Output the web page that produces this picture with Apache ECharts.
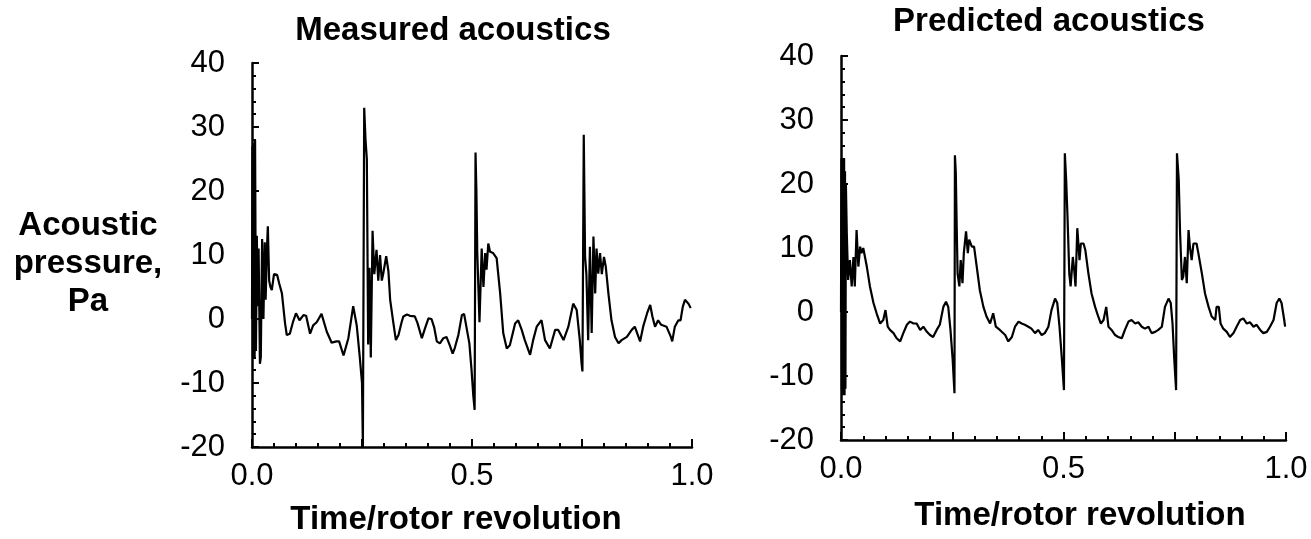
<!DOCTYPE html>
<html>
<head>
<meta charset="utf-8">
<script src="https://cdn.jsdelivr.net/npm/echarts@6/dist/echarts.min.js"></script>
<style>
html,body{margin:0;padding:0;background:#fff;}
#chart{width:1311px;height:539px;}
</style>
</head>
<body>
<div id="chart"></div>
<script>
// ---- Data ----
const measuredT = [0.000,0.001,0.002,0.003,0.004,0.005,0.006,0.007,0.009,0.011,0.013,0.015,0.018,0.020,0.023,0.026,0.029,0.031,0.034,0.036,0.039,0.042,0.045,0.050,0.057,0.062,0.068,0.075,0.079,0.086,0.093,0.100,0.108,0.117,0.123,0.132,0.139,0.147,0.158,0.170,0.181,0.192,0.198,0.208,0.219,0.230,0.238,0.245,0.250,0.252,0.253,0.255,0.258,0.261,0.264,0.267,0.270,0.274,0.278,0.283,0.287,0.291,0.295,0.298,0.305,0.310,0.314,0.321,0.327,0.333,0.340,0.344,0.352,0.359,0.370,0.376,0.386,0.393,0.401,0.408,0.414,0.420,0.427,0.435,0.442,0.450,0.456,0.461,0.469,0.477,0.482,0.488,0.494,0.499,0.503,0.506,0.508,0.510,0.512,0.517,0.522,0.526,0.530,0.533,0.537,0.541,0.548,0.556,0.564,0.571,0.579,0.586,0.598,0.605,0.613,0.620,0.632,0.639,0.647,0.658,0.666,0.677,0.689,0.696,0.708,0.719,0.730,0.738,0.745,0.749,0.751,0.754,0.757,0.760,0.764,0.768,0.772,0.776,0.780,0.783,0.787,0.791,0.795,0.800,0.804,0.810,0.817,0.825,0.833,0.840,0.852,0.863,0.870,0.882,0.889,0.898,0.905,0.910,0.916,0.923,0.930,0.942,0.952,0.955,0.961,0.969,0.974,0.979,0.984,0.992,0.997];
const measuredP = [0,27,-6,27.5,-5,27,-6,28,-5,13,2,11,-7,-6,12.5,0,12,3,11,14.5,6,5,4.5,7,6.9,5.5,4,-0.6,-2.5,-2.3,-0.5,0.9,-0.2,0.6,0.5,-2.3,-1,-0.5,0.8,-2,-3.7,-3.5,-3.5,-5.7,-3,2,-1,-6,-10,-20,-20,33,28,25,-4,8,-6,13.8,7,10.8,6,10,6,7,9.8,7.5,3,-0.5,-3.3,-2.5,-0.5,0.4,0.7,0.5,0.4,-0.6,-3,-1.5,0.1,0,-1.3,-3.5,-3.8,-3,-2.8,-4.2,-5.4,-4.5,-2.5,0.6,0.8,-1.5,-3.8,-8,-12,-14.2,26,20,10.3,-0.5,11,5,10.3,7.7,11.8,10.5,10.3,9.5,4,-2.2,-4.6,-4.1,-0.7,-0.2,-1.7,-3.3,-5.6,-3.3,-1.2,-0.2,-3.3,-4.6,-1.7,-1.7,-3.3,-1.2,2.4,1.4,-3.3,-6.9,-8.2,28.8,9.7,7,-3.3,11.3,-2.2,12.9,4,11,7.1,10.3,7,9.7,8.2,4,-0.2,-2.8,-3.8,-3.3,-2.8,-1.7,-1.2,-3.5,-1.2,0.9,2.2,0.4,-1.2,-0.2,-0.9,-1.2,-2.8,-3.5,-1.2,-0.2,-0.2,1.9,3,2.4,1.7];

const predictedT = [0.000,0.001,0.002,0.003,0.004,0.005,0.006,0.007,0.008,0.009,0.010,0.011,0.013,0.016,0.020,0.024,0.028,0.031,0.035,0.039,0.043,0.046,0.050,0.054,0.058,0.065,0.073,0.080,0.088,0.095,0.100,0.105,0.110,0.118,0.125,0.133,0.140,0.148,0.155,0.163,0.170,0.178,0.185,0.193,0.200,0.207,0.215,0.222,0.230,0.236,0.241,0.246,0.251,0.255,0.256,0.258,0.260,0.262,0.266,0.269,0.273,0.276,0.281,0.285,0.288,0.294,0.299,0.305,0.312,0.320,0.327,0.335,0.342,0.348,0.357,0.369,0.376,0.384,0.391,0.399,0.406,0.413,0.421,0.428,0.436,0.443,0.451,0.458,0.466,0.473,0.481,0.486,0.491,0.496,0.501,0.503,0.506,0.509,0.513,0.516,0.521,0.524,0.527,0.531,0.536,0.539,0.545,0.549,0.556,0.563,0.571,0.578,0.584,0.590,0.596,0.601,0.608,0.616,0.623,0.631,0.638,0.646,0.653,0.661,0.668,0.676,0.683,0.691,0.698,0.706,0.713,0.721,0.728,0.736,0.741,0.745,0.749,0.753,0.755,0.759,0.762,0.766,0.769,0.773,0.777,0.781,0.784,0.788,0.792,0.799,0.803,0.811,0.818,0.826,0.833,0.841,0.844,0.849,0.853,0.859,0.867,0.874,0.882,0.889,0.897,0.904,0.912,0.919,0.927,0.934,0.942,0.949,0.957,0.964,0.972,0.979,0.985,0.990,0.996,0.998];
const predictedP = [0,24,-12,24,-13,23,-12,24,-13,22,-12,20,12.3,5,8.1,4,8.6,4,12.8,7.1,10.2,9.2,10,10.2,7.1,4,1.4,-0.2,-1.8,-1.25,0.3,-2.3,-2.8,-3.3,-4.1,-4.6,-3.3,-2,-1.5,-1.8,-1.8,-2.8,-2.3,-3.1,-3.6,-3.9,-2.8,-2,0.8,1.6,0.8,-2.8,-7.5,-12.7,24.5,21.7,13.3,6,4,8.1,4.5,9.2,12.6,9.2,11.3,10.2,10.2,7.1,3.4,0.8,-0.7,-1.8,-0.2,-2.3,-2.8,-3.6,-4.6,-3.9,-2.3,-1.5,-1.8,-2,-2.3,-2.6,-3.3,-2.8,-3.6,-3.3,-2.3,0.3,2.1,1.4,-2.3,-7,-12.2,24.8,20.6,14.9,6,4,8.6,6.6,4,13.1,8.1,10.7,10.7,9.7,6,2.9,0.8,-0.7,-1.8,-1.25,0.8,-2.3,-2.8,-3.6,-3.9,-4.1,-2.8,-1.5,-1.25,-1.8,-1.6,-2.3,-2.6,-2.3,-3.3,-3.1,-2.8,-2.3,0.8,2.1,1.4,-1.8,-7.5,-12.2,24.8,20.6,12.3,5,5.5,8.6,4.5,12.8,10.2,8.1,10.7,10.7,9.2,6,2.9,0.8,-0.7,-1.25,0.8,0.8,-1.8,-2.6,-3.1,-3.9,-3.3,-2.3,-1.25,-1,-1.8,-1.6,-2.3,-2,-2.8,-3.3,-3.1,-2.3,-1.25,1.4,2.1,1.4,-1.25,-2.3];

const xTicks = [0, 0.5, 1.0];          // labelled x ticks
const yTicks = [-20, -10, 0, 10, 20, 30, 40];
const titles = ['Measured acoustics', 'Predicted acoustics'];
const xName = 'Time/rotor revolution';
const yName = 'Acoustic\npressure,\nPa';

// ---- Build chart ----
const FONT = "'Liberation Sans', Arial, Helvetica, sans-serif";
const zip = (a, b) => a.map((v, i) => [v, b[i]]);

function xAxisCfg(idx) {
  return {
    gridIndex: idx, type: 'value', min: 0, max: 1, interval: 0.25,
    axisLine: { show: true, onZero: false, lineStyle: { color: '#000', width: 2.5 } },
    axisTick: { show: true, inside: true, length: 8, lineStyle: { color: '#000', width: 2 } },
    minorTick: { show: true, splitNumber: 5, length: 4, lineStyle: { color: '#000', width: 2 } },
    splitLine: { show: false }, minorSplitLine: { show: false },
    axisLabel: {
      color: '#000', fontSize: 31, fontFamily: FONT, margin: 14,
      formatter: v => xTicks.some(t => Math.abs(t - v) < 1e-9) ? v.toFixed(1) : ''
    }
  };
}
function yAxisCfg(idx) {
  return {
    gridIndex: idx, type: 'value', min: yTicks[0], max: yTicks[yTicks.length - 1], interval: 10,
    axisLine: { show: true, onZero: false, lineStyle: { color: '#000', width: 2.5 } },
    axisTick: { show: true, inside: true, length: 7, lineStyle: { color: '#000', width: 2 } },
    minorTick: { show: true, splitNumber: 5, length: 4, lineStyle: { color: '#000', width: 2 } },
    splitLine: { show: false }, minorSplitLine: { show: false },
    axisLabel: { color: '#000', fontSize: 31, fontFamily: FONT, margin: 27 }
  };
}
function seriesCfg(idx, data) {
  return {
    type: 'line', xAxisIndex: idx, yAxisIndex: idx, data: data,
    showSymbol: false, symbol: 'none', clip: true,
    lineStyle: { color: '#000', width: 2.2 }
  };
}
function txt(x, y, text, size) {
  return {
    type: 'text', x: x, y: y,
    style: {
      text: text, fill: '#000', font: 'bold ' + size + 'px ' + FONT,
      textAlign: 'center', textVerticalAlign: 'middle', align: 'center', verticalAlign: 'middle',
      lineHeight: 38
    }
  };
}

const chart = echarts.init(document.getElementById('chart'), null, { renderer: 'canvas' });
chart.setOption({
  animation: false,
  backgroundColor: '#fff',
  grid: [
    { left: 252, top: 63, width: 440, height: 384 },
    { left: 841, top: 56, width: 445, height: 384 }
  ],
  xAxis: [xAxisCfg(0), xAxisCfg(1)],
  yAxis: [yAxisCfg(0), yAxisCfg(1)],
  series: [
    seriesCfg(0, zip(measuredT, measuredP)),
    seriesCfg(1, zip(predictedT, predictedP))
  ],
  graphic: [
    txt(453, 31, titles[0], 33),
    txt(1049, 22, titles[1], 33),
    txt(88, 264, yName, 33),
    txt(456, 520, xName, 33),
    txt(1080, 516, xName, 33)
  ]
});
</script>
</body>
</html>
